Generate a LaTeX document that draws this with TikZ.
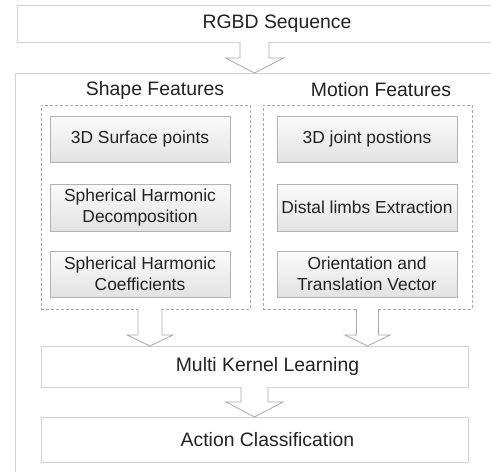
\documentclass[tikz,border=0pt]{standalone}
\usepackage{fontspec}
\setmainfont{Liberation Sans}
\usetikzlibrary{calc,shadows}
\definecolor{frame}{HTML}{D2D2D2}
\definecolor{stepline}{HTML}{B2B2B2}
\definecolor{dashline}{HTML}{A6A6A6}
\definecolor{arrowgray}{HTML}{A8A8A8}
\definecolor{ink}{HTML}{222222}
\definecolor{shadetop}{HTML}{FBFBFB}
\definecolor{shadebot}{HTML}{E2E2E2}

% hollow block arrow: start, end, shaft half width, head half width, head length
\newcommand{\hollowarrow}[5]{%
  \draw[arrowgray,fill=white,line width=0.8pt,line join=miter] let \p1=#1, \p2=#2 in
    (\x1-#3pt,\y1) -- (\x1-#3pt,\y2+#5pt) -- (\x1-#4pt,\y2+#5pt) -- (\x1,\y2)
    -- (\x1+#4pt,\y2+#5pt) -- (\x1+#3pt,\y2+#5pt) -- (\x1+#3pt,\y1);
}

\begin{document}
\begin{tikzpicture}[x=1pt,y=-1pt,
  every node/.style={inner sep=0pt,outer sep=0pt,text=ink},
  plainbox/.style={draw=frame,line width=0.8pt,fill=white},
  groupbox/.style={draw=dashline,densely dashed,line width=0.5pt},
  stepbox/.style={draw=stepline,line width=0.6pt,top color=shadetop,bottom color=shadebot,
    minimum width=180pt,align=center,font=\fontsize{17.4}{20.5}\selectfont,
    drop shadow={opacity=0.15,shadow xshift=1pt,shadow yshift=-1pt}},
  titletext/.style={font=\fontsize{19.4}{23}\selectfont}]
  \useasboundingbox (0,0) rectangle (491,472);
  \clip (0,0) rectangle (491,472);

  % Input box and outer frame run past the right edge.
  \node[plainbox,titletext,minimum width=520pt,minimum height=37pt] (rgbd) at (277,23.5) {RGBD Sequence};
  \node[plainbox,minimum width=490pt,minimum height=437pt] (outer) at (260,291.5) {};

  % Two feature groups.
  \node[groupbox,minimum width=209pt,minimum height=204pt] (shape) at (145.5,207) {};
  \node[groupbox,minimum width=209pt,minimum height=204pt] (motion) at (367.5,207) {};
  \node[titletext] (shapetitle) at (155,90) {Shape Features};
  \node[titletext] (motiontitle) at (381,90) {Motion Features};

  \foreach \yy/\hh/\lt/\rt [count=\i] in {
      139/46/{3D Surface points}/{3D joint postions},
      207.5/47/{Spherical Harmonic\\Decomposition}/{Distal limbs Extraction},
      274/46/{Spherical Harmonic\\Coefficients}/{Orientation and\\Translation Vector}}{
    \node[stepbox,minimum height=\hh pt] (shape\i) at (140,\yy) {\lt};
    \node[stepbox,minimum height=\hh pt] (motion\i) at (367,\yy) {\rt};
  }

  % Fusion and output.
  \node[plainbox,minimum width=427pt,minimum height=41pt] (mkl) at (254.5,366.5) {};
  \node[titletext] (mkltxt) at (267.5,366.5) {Multi Kernel Learning};
  \node[plainbox,minimum width=427pt,minimum height=45pt] (action) at (254.5,439.5) {};
  \node[titletext] (actiontxt) at (267.5,439.5) {Action Classification};

  \hollowarrow{(rgbd.south -| mkl)}{(outer.north -| mkl)}{14.5}{29}{15}
  \hollowarrow{([xshift=4.5pt]shape.south)}{([xshift=4.5pt]shape.south |- mkl.north)}{12}{23}{11}
  \hollowarrow{(motion.south)}{(motion.south |- mkl.north)}{11}{22.5}{11}
  \hollowarrow{(mkl.south)}{(action.north)}{13.5}{28.5}{15}
\end{tikzpicture}
\end{document}
